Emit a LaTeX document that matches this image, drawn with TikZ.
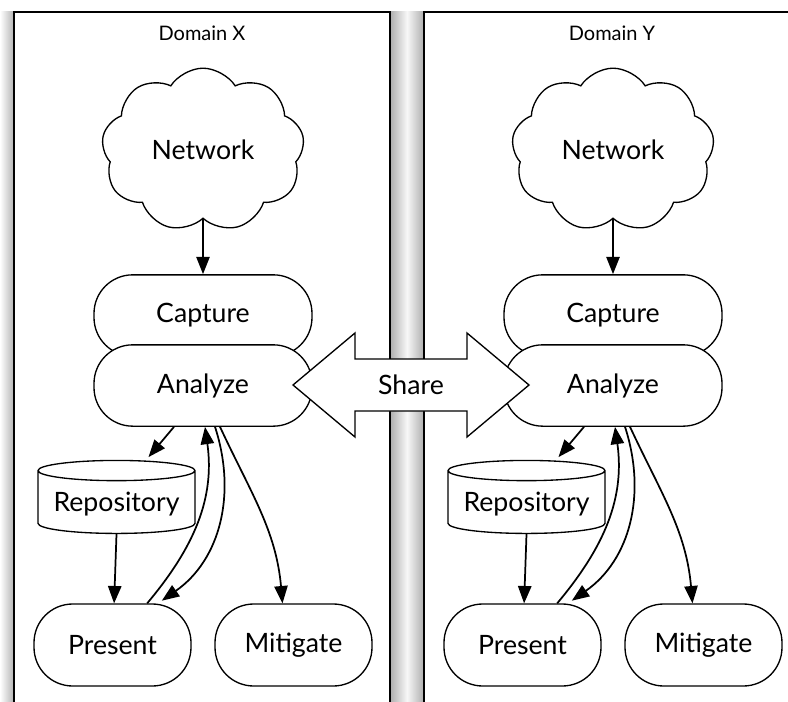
\documentclass[tikz,border=0pt]{standalone}
\usepackage{fontspec}
\setmainfont{Lato}
\usetikzlibrary{shapes.symbols,shapes.geometric,arrows.meta,positioning}

\newcommand{\labelfont}{\fontsize{20}{24}\selectfont}
\newcommand{\domainfont}{\fontsize{15}{18}\selectfont}

\tikzset{
  domainbox/.style={draw, line width=1.5pt, fill=white},
  domainlabel/.style={font=\domainfont, inner sep=0pt},
  netcloud/.style={cloud, draw, fill=white, line width=1pt, cloud puffs=9, cloud puff arc=115,
    minimum width=152pt, minimum height=122pt, inner sep=0pt, font=\labelfont},
  stage/.style={draw, fill=white, line width=1pt, rounded corners=29pt,
    minimum width=163.5pt, minimum height=61pt, font=\labelfont},
  endstage/.style={stage, minimum width=117.75pt, minimum height=61.5pt},
  store/.style={cylinder, shape border rotate=90, draw, fill=white, line width=1pt,
    aspect=0.15, minimum width=117.75pt, minimum height=54.75pt, font=\labelfont},
  flow/.style={-{Triangle[length=13pt,width=10pt]}, line width=1.3pt},
}

\begin{document}
\begin{tikzpicture}[x=0.75pt, y=-0.75pt]
  \useasboundingbox (0,0) rectangle (788,702);
  \clip (0,0) rectangle (788,702);

  % shadows of the two domains
  \shade[left color=white, right color=black!30] (0,12) rectangle (14,702);
  \shade[left color=black!32, right color=black!3] (390,12) rectangle (407,702);
  \shade[left color=black!3, right color=black!32] (407,12) rectangle (424,702);
  \draw[domainbox] (14,12) rectangle (390,720);
  \draw[domainbox] (424,12) rectangle (800,720);

  % Domain X
  \node[domainlabel] (domx) at (202,33) {Domain X};
  \node[netcloud] (netx) at (203,150) {Network};
  \node[stage] (capx) at (203,315.5) {Capture};
  \node[stage] (anax) at (203,385.5) {Analyze};
  \node[store] (repx) at (116.5,504) {Repository};
  \node[endstage] (presx) at (112.5,645) {Present};
  \node[endstage] (mitx) at (293.5,645) {Mitigate};

  % Domain Y
  \node[domainlabel] (domy) at (612,33) {Domain Y};
  \node[netcloud] (nety) at (613,150) {Network};
  \node[stage] (capy) at (613,315.5) {Capture};
  \node[stage] (anay) at (613,385.5) {Analyze};
  \node[store] (repy) at (526.5,504) {Repository};
  \node[endstage] (presy) at (522.5,645) {Present};
  \node[endstage] (mity) at (703.5,645) {Mitigate};

  \draw[flow] (netx.south) -- (capx.north);
  \draw[flow] ([xshift=-21.75pt]anax.south) -- ([xshift=24pt,yshift=2pt]repx.north);
  \draw[flow] (repx.south) -- ([xshift=1.2pt]presx.north);
  \draw[flow] ([xshift=26pt]presx.north) to[out=50,in=-82] ([xshift=1.5pt]anax.south);
  \draw[flow] ([xshift=9pt]anax.south) to[out=-72,in=35] ([xshift=37pt,yshift=2pt]presx.north);
  \draw[flow] ([xshift=12.75pt]anax.south) to[out=-65,in=95] ([xshift=-8.25pt]mitx.north);

  \draw[flow] (nety.south) -- (capy.north);
  \draw[flow] ([xshift=-21.75pt]anay.south) -- ([xshift=24pt,yshift=2pt]repy.north);
  \draw[flow] (repy.south) -- ([xshift=1.2pt]presy.north);
  \draw[flow] ([xshift=26pt]presy.north) to[out=50,in=-82] ([xshift=1.5pt]anay.south);
  \draw[flow] ([xshift=9pt]anay.south) to[out=-72,in=35] ([xshift=37pt,yshift=2pt]presy.north);
  \draw[flow] ([xshift=12.75pt]anay.south) to[out=-65,in=95] ([xshift=-8.25pt]mity.north);

  % sharing between the domains
  \draw[fill=white, line width=1pt, shift={(411,385)}]
    (-118,0) -- (-56,-52) -- (-56,-26) -- (56,-26) -- (56,-52) -- (118,0)
    -- (56,52) -- (56,26) -- (-56,26) -- (-56,52) -- cycle;
  \node[font=\labelfont] (share) at (411,385) {Share};
\end{tikzpicture}
\end{document}
